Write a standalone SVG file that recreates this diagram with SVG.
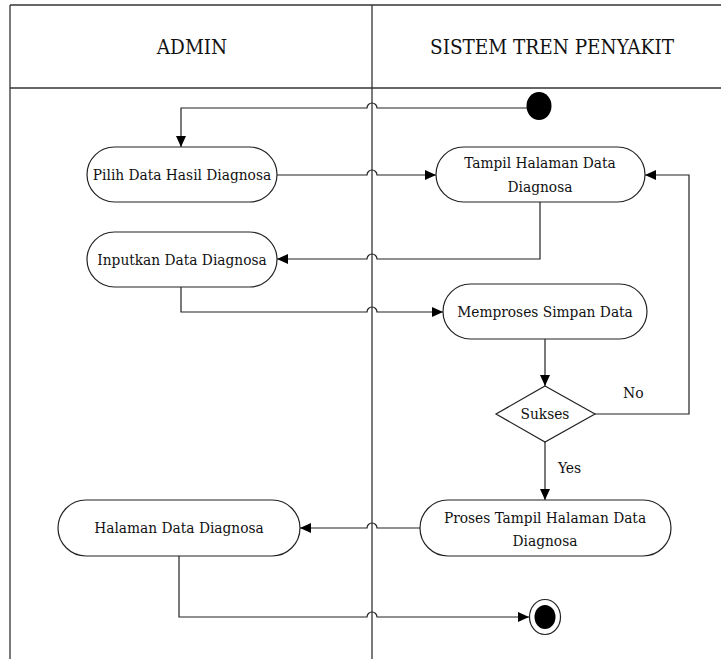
<svg xmlns="http://www.w3.org/2000/svg" width="721" height="659" viewBox="0 0 721 659">
<defs>
<marker id="arr" markerUnits="userSpaceOnUse" markerWidth="12" markerHeight="10" refX="11" refY="5" orient="auto">
<path d="M0,0 L11,5 L0,10 Z" fill="#000"/>
</marker>
<style>
.frame{stroke:#333;stroke-width:1.3;fill:none}
.node{fill:#fff;stroke:#222;stroke-width:1.2}
.edge{fill:none;stroke:#222;stroke-width:1.2;marker-end:url(#arr)}
text{font-family:'DejaVu Serif',serif;fill:#111;font-stretch:condensed}
.t{font-size:15.3px;text-anchor:middle}
.h{font-size:20.5px;text-anchor:middle}
.l{font-size:15.5px}
</style>
</defs>
<g id="frame">
<line class="frame" x1="10" y1="5" x2="721" y2="5"/>
<line class="frame" x1="10" y1="88" x2="721" y2="88"/>
<line class="frame" x1="10" y1="5" x2="10" y2="659"/>
<line class="frame" x1="372" y1="5" x2="372" y2="659"/>
<text class="h" x="192" y="54">ADMIN</text>
<text class="h" x="552" y="54">SISTEM TREN PENYAKIT</text>
</g>
<g id="connectors">
<path class="edge" d="M527,108 H377 A5,5 0 0 0 367,108 H181 V147"/>
<path class="edge" d="M277,175 H367 A5,5 0 0 1 377,175 H436"/>
<path class="edge" d="M540,202 V259 H377 A5,5 0 0 0 367,259 H277"/>
<path class="edge" d="M181,287 V312 H367 A5,5 0 0 1 377,312 H443"/>
<path class="edge" d="M545,339 V386"/>
<path class="edge" d="M595,414 H689 V175 H645"/>
<path class="edge" d="M545,442 V500"/>
<path class="edge" d="M420,528 H377 A5,5 0 0 0 367,528 H300"/>
<path class="edge" d="M179,556 V617 H367 A5,5 0 0 1 377,617 H529"/>
<text class="l" x="623" y="398">No</text>
<text class="l" x="558" y="473">Yes</text>
</g>
<g id="start">
<ellipse cx="539" cy="106" rx="12.5" ry="14" fill="#000"/>
</g>
<g id="pilih">
<rect class="node" x="87" y="147" width="190" height="55" rx="27.5"/>
<text class="t" x="182" y="180">Pilih Data Hasil Diagnosa</text>
</g>
<g id="tampil">
<rect class="node" x="436" y="147" width="209" height="55" rx="27.5"/>
<text class="t" x="540" y="168">Tampil Halaman Data</text>
<text class="t" x="540" y="192">Diagnosa</text>
</g>
<g id="inputkan">
<rect class="node" x="87" y="232" width="190" height="55" rx="27.5"/>
<text class="t" x="182" y="265">Inputkan Data Diagnosa</text>
</g>
<g id="memproses">
<rect class="node" x="443" y="284" width="204" height="55" rx="27.5"/>
<text class="t" x="545" y="317">Memproses Simpan Data</text>
</g>
<g id="sukses">
<polygon class="node" points="545,386 595,414 545,442 496,414"/>
<text class="t" x="545" y="419">Sukses</text>
</g>
<g id="proses">
<rect class="node" x="420" y="500" width="251" height="56" rx="28"/>
<text class="t" x="545" y="523">Proses Tampil Halaman Data</text>
<text class="t" x="545" y="546">Diagnosa</text>
</g>
<g id="halaman">
<rect class="node" x="58" y="500" width="242" height="56" rx="28"/>
<text class="t" x="179" y="533">Halaman Data Diagnosa</text>
</g>
<g id="end">
<ellipse cx="545" cy="617" rx="15.5" ry="17.5" fill="#fff" stroke="#222" stroke-width="1.2"/>
<ellipse cx="545" cy="617" rx="10.5" ry="12" fill="#000"/>
</g>
</svg>
